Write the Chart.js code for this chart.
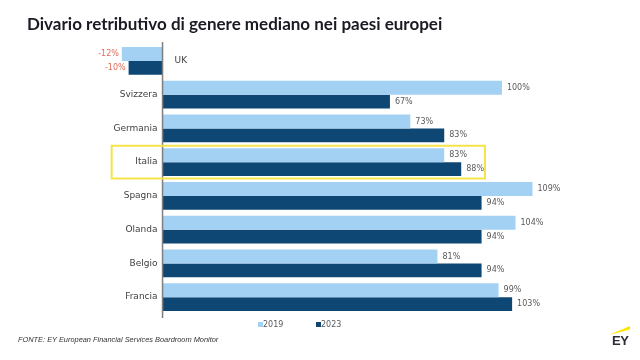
<!DOCTYPE html>
<html>
<head>
<meta charset="utf-8">
<script src="https://cdn.jsdelivr.net/npm/chart.js@4/dist/chart.umd.min.js"></script>
<style>
  html, body { margin: 0; padding: 0; background: #fff; }
  #wrap { position: relative; width: 640px; height: 360px; overflow: hidden; }
  canvas { position: absolute; left: 0; top: 0; }
  #title { position: absolute; left: 27px; top: 13px; font-family: Lato, "Liberation Sans", sans-serif; font-weight: bold; font-size: 17px; color: #1a1a24; white-space: nowrap; }
  #source { position: absolute; left: 18px; top: 335px; font-family: "Liberation Sans", sans-serif; font-style: italic; font-size: 7.4px; color: #333; white-space: nowrap; }
  #logo { position: absolute; left: 606px; top: 322px; width: 30px; height: 28px; }
  #logo span { position: absolute; left: 6px; top: 11px; font-family: "Liberation Sans", sans-serif; font-weight: bold; font-size: 13px; color: #2e2e38; letter-spacing: -0.5px; }
</style>
</head>
<body>
<div id="wrap">
  <canvas id="c" width="640" height="360"></canvas>
  <div id="title">Divario retributivo di genere mediano nei paesi europei</div>
  <div id="source">FONTE: EY European Financial Services Boardroom Monitor</div>
  <div id="logo">
    <svg width="30" height="14" viewBox="0 0 30 14"><polygon points="5,12 24,4 24,7.5 5,12.5" fill="#ffe600"/></svg>
    <span>EY</span>
  </div>
</div>
<script>
const categories = ["UK", "Svizzera", "Germania", "Italia", "Spagna", "Olanda", "Belgio", "Francia"];
const seriesLabels = ["2019", "2023"];
const values2019 = [-12, 100, 73, 83, 109, 104, 81, 99];
const values2023 = [-10, 67, 83, 88, 94, 94, 94, 103];
const highlighted = "Italia";

const colors = ["#a3d1f3", "#0f4774"];
const labelFont = "8px 'DejaVu Sans', sans-serif";
const catFont = "9px 'DejaVu Sans', sans-serif";

const overlayPlugin = {
  id: "overlay",
  afterDatasetsDraw(chart) {
    const ctx = chart.ctx;
    const xs = chart.scales.x, ys = chart.scales.y;
    const zero = xs.getPixelForValue(0);
    ctx.save();
    // axis line
    ctx.strokeStyle = "#7f7f7f";
    ctx.lineWidth = 1.5;
    ctx.beginPath();
    ctx.moveTo(zero, chart.chartArea.top - 2);
    ctx.lineTo(zero, chart.chartArea.bottom + 4);
    ctx.stroke();
    // value labels
    ctx.font = labelFont;
    ctx.textBaseline = "middle";
    chart.data.datasets.forEach((ds, di) => {
      const meta = chart.getDatasetMeta(di);
      meta.data.forEach((bar, i) => {
        const v = ds.data[i];
        const txt = v + "%";
        if (v < 0) {
          ctx.fillStyle = "#e06c5a";
          ctx.textAlign = "right";
          ctx.fillText(txt, bar.x - 3, bar.y);
        } else {
          ctx.fillStyle = "#595959";
          ctx.textAlign = "left";
          ctx.fillText(txt, bar.x + 5, bar.y);
        }
      });
    });
    // category labels
    ctx.font = catFont;
    ctx.fillStyle = "#404040";
    categories.forEach((c, i) => {
      const y = ys.getPixelForValue(i);
      const neg = values2019[i] < 0 && values2023[i] < 0;
      if (neg) {
        ctx.textAlign = "left";
        ctx.fillText(c, zero + 12, y);
      } else {
        ctx.textAlign = "right";
        ctx.fillText(c, zero - 5, y);
      }
    });
    // highlight box
    const hi = categories.indexOf(highlighted);
    const yc = ys.getPixelForValue(hi);
    const half = (ys.getPixelForValue(1) - ys.getPixelForValue(0)) / 2;
    ctx.strokeStyle = "#f5e34a";
    ctx.lineWidth = 2;
    const l = xs.getPixelForValue(-15), r = xs.getPixelForValue(95);
    ctx.strokeRect(l, yc - half + 0.5, r - l, 2 * half - 1);
    // legend
    ctx.font = labelFont;
    ctx.textAlign = "left";
    const lx = [258, 316];
    chart.data.datasets.forEach((ds, di) => {
      ctx.fillStyle = ds.backgroundColor;
      ctx.fillRect(lx[di], 322, 5, 5);
      ctx.fillStyle = "#595959";
      ctx.fillText(ds.label, lx[di] + 5, 325);
    });
    ctx.restore();
  }
};

new Chart(document.getElementById("c"), {
  type: "bar",
  data: {
    labels: categories,
    datasets: [
      { label: seriesLabels[0], data: values2019, backgroundColor: colors[0] },
      { label: seriesLabels[1], data: values2023, backgroundColor: colors[1] }
    ]
  },
  options: {
    indexAxis: "y",
    responsive: false,
    animation: false,
    categoryPercentage: 0.82,
    barPercentage: 1.0,
    layout: { padding: { left: 20, right: 60, top: 44, bottom: 46 } },
    scales: {
      x: { display: false, min: -42, max: 123 },
      y: { display: false }
    },
    plugins: {
      legend: { display: false },
      tooltip: { enabled: false }
    }
  },
  plugins: [overlayPlugin]
});
</script>
</body>
</html>
